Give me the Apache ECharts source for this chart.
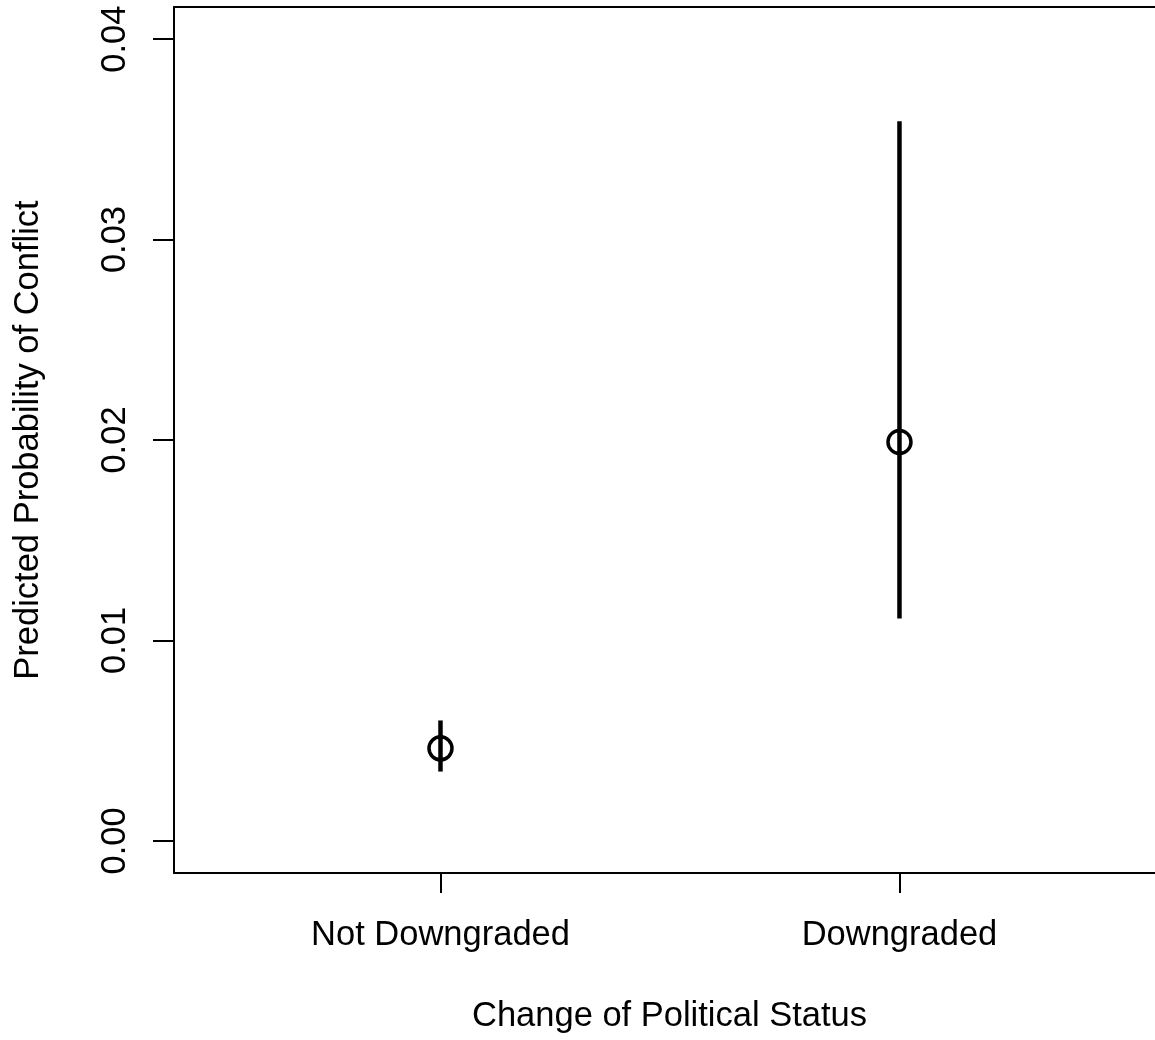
<!DOCTYPE html>
<html>
<head>
<meta charset="utf-8">
<script src="https://cdn.jsdelivr.net/npm/echarts@6/dist/echarts.min.js"></script>
<style>
html,body{margin:0;padding:0;background:#fff;}
#chart{width:1155px;height:1040px;}
</style>
</head>
<body>
<div id="chart"></div>
<script>
var categories = ["Not Downgraded", "Downgraded"];
var catPositions = [1, 2];
var estimates = [0.00462, 0.0199];
var lowerBounds = [0.00346, 0.01109];
var upperBounds = [0.00601, 0.0359];
var yTicks = [0, 0.01, 0.02, 0.03, 0.04];

var FONT = '"Liberation Sans", Arial, Helvetica, sans-serif';
var FS = 34.5;
var X_MIN = 0.4194, X_MAX = 2.5567;

var chart = echarts.init(document.getElementById('chart'));

var pointData = catPositions.map(function (x, i) { return [x, estimates[i]]; });
var barData = catPositions.map(function (x, i) { return [x, lowerBounds[i], upperBounds[i]]; });

chart.setOption({
  animation: false,
  backgroundColor: '#ffffff',
  grid: { left: 174, right: 0, top: 7, bottom: 167, show: false },
  xAxis: [{
    type: 'value',
    min: X_MIN, max: X_MAX,
    name: 'Change of Political Status',
    nameLocation: 'middle',
    nameGap: 126,
    nameTextStyle: { color: '#000', fontSize: FS, fontFamily: FONT, padding: [0, 0, 0, 10] },
    splitLine: { show: false },
    axisLine: { show: true, onZero: false, lineStyle: { color: '#000', width: 2 } },
    axisTick: { show: true, customValues: catPositions, length: 20, lineStyle: { color: '#000', width: 2 } },
    axisLabel: {
      customValues: catPositions,
      margin: 45,
      color: '#000', fontSize: FS, fontFamily: FONT,
      formatter: function (v) { return categories[Math.round(v) - 1]; }
    }
  }, {
    type: 'value',
    position: 'top',
    min: X_MIN, max: X_MAX,
    splitLine: { show: false },
    axisLine: { show: true, onZero: false, lineStyle: { color: '#000', width: 2 } },
    axisTick: { show: false },
    axisLabel: { show: false }
  }],
  yAxis: {
    type: 'value',
    min: -0.0016, max: 0.0416,
    name: 'Predicted Probability of Conflict',
    nameLocation: 'middle',
    nameRotate: 90,
    nameGap: 128,
    nameTextStyle: { color: '#000', fontSize: FS, fontFamily: FONT },
    splitLine: { show: false },
    axisLine: { show: true, onZero: false, lineStyle: { color: '#000', width: 2 } },
    axisTick: { show: true, customValues: yTicks, length: 21, lineStyle: { color: '#000', width: 2 } },
    axisLabel: {
      customValues: yTicks,
      rotate: 90,
      margin: 41,
      color: '#000', fontSize: FS, fontFamily: FONT,
      formatter: function (v) { return v.toFixed(2); }
    }
  },
  series: [
    {
      type: 'custom',
      xAxisIndex: 0,
      data: barData,
      renderItem: function (params, api) {
        var p1 = api.coord([api.value(0), api.value(1)]);
        var p2 = api.coord([api.value(0), api.value(2)]);
        return {
          type: 'line',
          shape: { x1: p1[0], y1: p1[1], x2: p2[0], y2: p2[1] },
          style: { stroke: '#000', lineWidth: 4.5 }
        };
      },
      z: 2
    },
    {
      type: 'scatter',
      xAxisIndex: 0,
      data: pointData,
      symbol: 'circle',
      symbolSize: 23,
      itemStyle: { color: 'rgba(0,0,0,0)', borderColor: '#000', borderWidth: 3.5, opacity: 1 },
      z: 3
    }
  ]
});
</script>
</body>
</html>
